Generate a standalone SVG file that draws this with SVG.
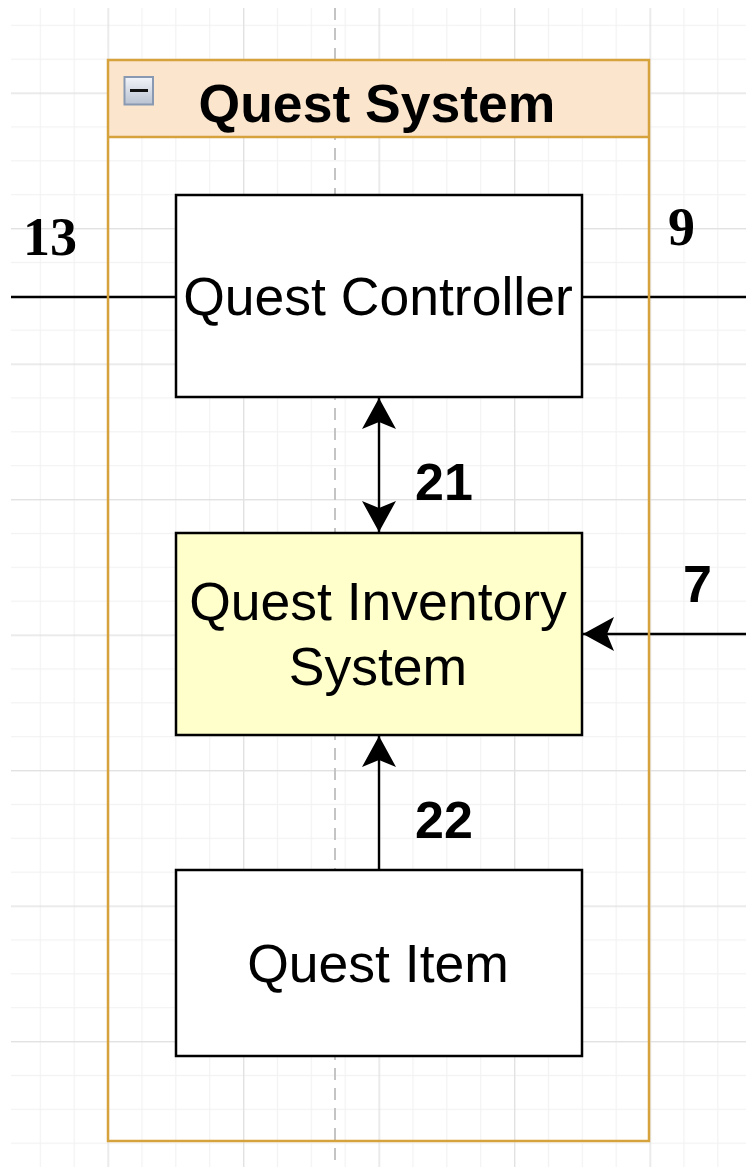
<svg xmlns="http://www.w3.org/2000/svg" width="746" height="1167" viewBox="0 0 746 1167">
  <style>
    .box { stroke: #000; stroke-width: 2.5; }
    .lbl { font-family: "Liberation Sans", Arial, sans-serif; font-size: 53.5px; fill: #000; text-anchor: middle; }
    .num { font-family: "Liberation Sans", Arial, sans-serif; font-size: 52px; font-weight: bold; fill: #000; }
    .numserif { font-family: "Liberation Serif", "Times New Roman", serif; font-size: 54px; font-weight: bold; fill: #000; }
    .edge { stroke: #000; stroke-width: 2.4; fill: none; }
  </style>
  <defs>
    <pattern id="grid" patternUnits="userSpaceOnUse" x="107.5" y="92.5" width="135.5" height="135.5">
      <g fill="#f2f2f2">
        <rect x="33.875" y="0" width="1.2" height="135.5"/>
        <rect x="67.75" y="0" width="1.2" height="135.5"/>
        <rect x="101.625" y="0" width="1.2" height="135.5"/>
        <rect x="0" y="33.875" width="135.5" height="1.2"/>
        <rect x="0" y="67.75" width="135.5" height="1.2"/>
        <rect x="0" y="101.625" width="135.5" height="1.2"/>
      </g>
      <g fill="#e2e2e2">
        <rect x="0" y="0" width="1.4" height="135.5"/>
        <rect x="0" y="0" width="135.5" height="1.4"/>
      </g>
    </pattern>
    <linearGradient id="iconFill" x1="0" y1="0" x2="0" y2="1">
      <stop offset="0" stop-color="#f2f4f8"/>
      <stop offset="1" stop-color="#b9c2d1"/>
    </linearGradient>
    <marker id="arrow" markerUnits="userSpaceOnUse" viewBox="-32 -18 34 36" markerWidth="34" markerHeight="36" refX="0" refY="0" orient="auto-start-reverse" overflow="visible">
      <path d="M0,0 L-31,-17 L-24,0 L-31,17 Z" fill="#000"/>
    </marker>
  </defs>

  <!-- canvas -->
  <rect x="0" y="0" width="746" height="1167" fill="#fff"/>
  <rect x="11" y="8" width="735" height="1159" fill="url(#grid)"/>
  <line x1="335" y1="8" x2="335" y2="1167" stroke="#c4c4c4" stroke-width="2" stroke-dasharray="12 8"/>

  <!-- connectors -->
  <g id="connectors">
    <line class="edge" x1="11" y1="297" x2="176" y2="297"/>
    <text class="numserif" x="23" y="255">13</text>

    <line class="edge" x1="582" y1="297" x2="746" y2="297"/>
    <text class="numserif" x="668" y="245">9</text>

    <line class="edge" x1="379" y1="398" x2="379" y2="532" marker-start="url(#arrow)" marker-end="url(#arrow)"/>
    <text class="num" x="415" y="500">21</text>

    <line class="edge" x1="746" y1="634" x2="583" y2="634" marker-end="url(#arrow)"/>
    <text class="num" x="683" y="602">7</text>

    <line class="edge" x1="379" y1="870" x2="379" y2="736" marker-end="url(#arrow)"/>
    <text class="num" x="415" y="838">22</text>
  </g>

  <!-- swimlane container -->
  <g id="quest-system">
    <rect x="108" y="60" width="541" height="77" fill="#fbe5cd"/>
    <rect x="108" y="60" width="541" height="1081" fill="none" stroke="#d6a23c" stroke-width="2.5"/>
    <line x1="108" y1="137" x2="649" y2="137" stroke="#d6a23c" stroke-width="2.5"/>
    <rect x="124.5" y="77" width="28.5" height="27.5" fill="url(#iconFill)" stroke="#8a99b2" stroke-width="2"/>
    <line x1="130" y1="90.5" x2="148" y2="90.5" stroke="#111" stroke-width="3"/>
    <text x="377" y="122" font-family="Liberation Sans, Arial, sans-serif" font-size="53.5" font-weight="bold" text-anchor="middle">Quest System</text>
  </g>

  <g id="quest-controller">
    <rect class="box" x="176" y="195" width="406" height="202" fill="#fff"/>
    <text class="lbl" x="378" y="315">Quest Controller</text>
  </g>

  <g id="quest-inventory-system">
    <rect class="box" x="176" y="533" width="406" height="202" fill="#ffffcc"/>
    <text class="lbl" x="378" y="620">Quest Inventory</text>
    <text class="lbl" x="378" y="685">System</text>
  </g>

  <g id="quest-item">
    <rect class="box" x="176" y="870" width="406" height="186" fill="#fff"/>
    <text class="lbl" x="378" y="982">Quest Item</text>
  </g>
</svg>
